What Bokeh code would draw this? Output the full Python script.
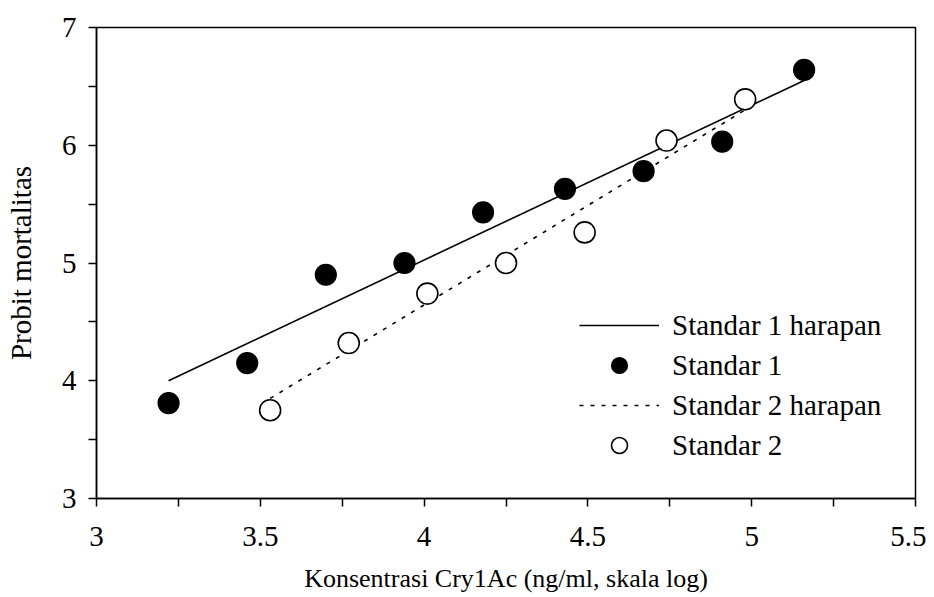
from bokeh.plotting import figure
from bokeh.models import FixedTicker, Legend, LegendItem, Range1d
from bokeh.embed import file_html
from bokeh.resources import INLINE

# Data
x1 = [3.22, 3.46, 3.70, 3.94, 4.18, 4.43, 4.67, 4.91, 5.16]
y1 = [3.81, 4.15, 4.90, 5.00, 5.43, 5.63, 5.78, 6.03, 6.64]
x2 = [3.53, 3.77, 4.01, 4.25, 4.49, 4.74, 4.98]
y2 = [3.75, 4.32, 4.74, 5.00, 5.26, 6.04, 6.39]
fit1_x = [3.22, 5.16]
fit1_y = [4.00, 6.55]
fit2_x = [3.53, 4.98]
fit2_y = [3.85, 6.30]

x_ticks = [3, 3.5, 4, 4.5, 5, 5.5]
x_minor = [3.25, 3.75, 4.25, 4.75, 5.25]
y_ticks = [3, 4, 5, 6, 7]
y_minor = [3.5, 4.5, 5.5, 6.5]

FONT = "Liberation Serif"

p = figure(width=926, height=597, output_backend="svg", toolbar_location=None,
           x_range=Range1d(3, 5.5), y_range=Range1d(3, 7),
           min_border_left=96, min_border_right=11, min_border_top=27, min_border_bottom=99,
           frame_width=819, frame_height=471)
p.grid.visible = False
p.outline_line_color = "black"
p.outline_line_width = 1.5
p.background_fill_color = "white"
p.border_fill_color = "white"

p.xaxis.ticker = FixedTicker(ticks=x_ticks, minor_ticks=x_minor)
p.yaxis.ticker = FixedTicker(ticks=y_ticks, minor_ticks=y_minor)
for ax in (p.xaxis[0], p.yaxis[0]):
    ax.axis_line_width = 1.5
    ax.axis_line_color = "black"
    ax.major_tick_line_width = 1.5
    ax.minor_tick_line_width = 1.5
    ax.major_tick_line_color = "black"
    ax.minor_tick_line_color = "black"
    ax.major_tick_in = 0
    ax.minor_tick_in = 0
    ax.major_tick_out = 8
    ax.minor_tick_out = 8
    ax.major_label_text_font = FONT
    ax.major_label_text_font_size = "29px"
    ax.major_label_text_color = "black"
    ax.axis_label_text_font = FONT
    ax.axis_label_text_font_style = "normal"
    ax.axis_label_text_color = "black"

p.xaxis.axis_label = "Konsentrasi Cry1Ac (ng/ml, skala log)"
p.yaxis.axis_label = "Probit mortalitas"
p.xaxis.axis_label_text_font_size = "26px"
p.yaxis.axis_label_text_font_size = "29px"
p.xaxis.major_label_standoff = 20
p.yaxis.major_label_standoff = 12
p.xaxis.axis_label_standoff = 15
p.yaxis.axis_label_standoff = 22
p.xaxis.major_label_overrides = {3: "3", 4: "4", 5: "5"}
p.yaxis.major_label_overrides = {3: "3", 4: "4", 5: "5", 6: "6", 7: "7"}

l1 = p.line(fit1_x, fit1_y, line_color="black", line_width=1.6)
s1 = p.scatter(x1, y1, size=21, fill_color="black", line_color="black", line_width=1.2)
l2 = p.line(fit2_x, fit2_y, line_color="black", line_width=1.6, line_dash="4 7")
s2 = p.scatter(x2, y2, size=21, fill_color="white", line_color="black", line_width=1.6)

legend = Legend(items=[
    LegendItem(label="Standar 1 harapan", renderers=[l1]),
    LegendItem(label="Standar 1", renderers=[s1]),
    LegendItem(label="Standar 2 harapan", renderers=[l2]),
    LegendItem(label="Standar 2", renderers=[s2]),
], location=(483, 33), border_line_color=None, background_fill_alpha=0,
    padding=0, margin=0, spacing=0, glyph_width=80, glyph_height=40,
    label_height=40, label_standoff=13,
    label_text_font=FONT, label_text_font_size="29px", label_text_color="black")
p.add_layout(legend, "center")

open("out.html", "w").write(file_html(p, INLINE))
